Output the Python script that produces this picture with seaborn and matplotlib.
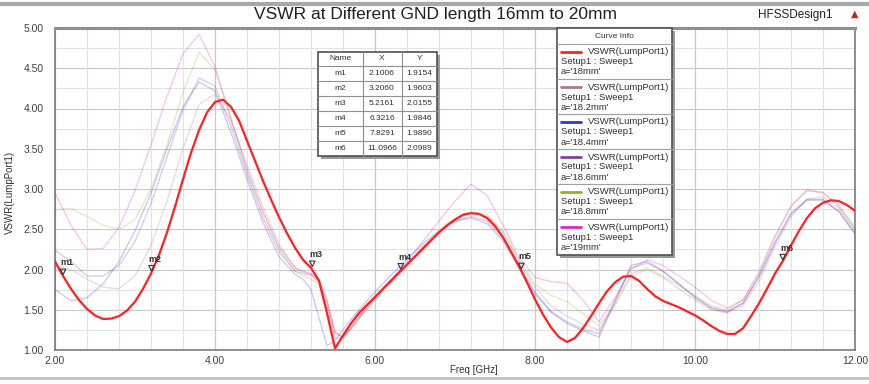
import numpy as np
import pandas as pd
import matplotlib
matplotlib.use("Agg")
import matplotlib.pyplot as plt
import matplotlib.transforms as mtransforms
from matplotlib.patches import Rectangle
from matplotlib.lines import Line2D
from matplotlib.ticker import MultipleLocator, FormatStrFormatter
import seaborn as sns

# ---------------- data ----------------
title = "VSWR at Different GND length 16mm to 20mm"
design = "HFSSDesign1"
y_label = "VSWR(LumpPort1)"
x_label = "Freq [GHz]"

freq_red = np.round(np.arange(2.0, 12.001, 0.1), 1)
vswr_18 = [2.10, 1.92, 1.76, 1.62, 1.51, 1.43, 1.385, 1.39, 1.42, 1.49,
           1.60, 1.76, 1.95, 2.18, 2.46, 2.78, 3.12, 3.45, 3.73, 3.95,
           4.08, 4.11, 4.02, 3.85, 3.60, 3.35, 3.10, 2.87, 2.65, 2.45,
           2.27, 2.12, 2.02, 1.86, 1.46, 1.02, 1.18, 1.33, 1.46, 1.56,
           1.66, 1.76, 1.86, 1.96, 2.06, 2.16, 2.26, 2.36, 2.46, 2.55,
           2.62, 2.68, 2.70, 2.69, 2.64, 2.54, 2.40, 2.22, 2.04, 1.84,
           1.63, 1.44, 1.28, 1.16, 1.10, 1.15, 1.27, 1.42, 1.58, 1.73,
           1.84, 1.91, 1.92, 1.86, 1.76, 1.67, 1.61, 1.57, 1.53, 1.48,
           1.43, 1.37, 1.30, 1.24, 1.20, 1.20, 1.27, 1.42, 1.58, 1.76,
           1.95, 2.11, 2.30, 2.48, 2.64, 2.76, 2.83, 2.86, 2.85, 2.80,
           2.73]

freq_other = [2.0, 2.2, 2.4, 2.6, 2.8, 3.0, 3.2, 3.4, 3.6, 3.8, 4.0, 4.2, 4.4, 4.6, 4.8,
              5.0, 5.1, 5.2, 5.3, 5.4, 5.5, 5.6, 5.7, 5.8,
              6.0, 6.2, 6.4, 6.6, 6.8, 7.0, 7.2, 7.4, 7.6, 7.8, 8.0, 8.2, 8.4, 8.6, 8.8,
              9.0, 9.2, 9.4, 9.6, 9.8, 10.0, 10.2, 10.4, 10.6, 10.8, 11.0, 11.2, 11.4,
              11.6, 11.8, 12.0]

vswr_18_2 = [2.05, 2.00, 1.88, 1.78, 1.76, 1.92, 2.30, 2.85, 3.50, 4.05, 4.18, 3.85, 3.30, 2.78, 2.32,
             2.02, 1.97, 1.94, 1.86, 1.62, 1.22, 1.15, 1.26, 1.38,
             1.62, 1.84, 2.05, 2.27, 2.47, 2.62, 2.70, 2.66, 2.46, 2.10, 1.78, 1.55, 1.42, 1.32, 1.25,
             1.55, 1.92, 2.00, 1.90, 1.76, 1.62, 1.50, 1.46, 1.55, 1.85, 2.28, 2.65, 2.88,
             2.90, 2.76, 2.48]
vswr_18_4 = [1.75, 1.61, 1.65, 1.82, 2.10, 2.48, 2.95, 3.50, 4.02, 4.33, 4.22, 3.70, 3.12, 2.58, 2.16,
             1.94, 1.88, 1.75, 1.40, 1.05, 1.12, 1.25, 1.38, 1.50,
             1.72, 1.93, 2.13, 2.32, 2.48, 2.60, 2.64, 2.57, 2.36, 2.02, 1.70, 1.47, 1.33, 1.24, 1.16,
             1.60, 2.05, 2.10, 1.98, 1.82, 1.65, 1.52, 1.47, 1.58, 1.92, 2.34, 2.70, 2.87,
             2.87, 2.72, 2.44]
vswr_18_6 = [2.24, 2.10, 1.92, 1.92, 2.05, 2.35, 2.82, 3.40, 3.98, 4.38, 4.28, 3.78, 3.18, 2.64, 2.22,
             1.98, 1.95, 1.93, 1.85, 1.55, 1.15, 1.14, 1.27, 1.40,
             1.65, 1.87, 2.08, 2.28, 2.46, 2.60, 2.66, 2.60, 2.40, 2.05, 1.72, 1.48, 1.35, 1.26, 1.20,
             1.62, 2.02, 2.08, 1.98, 1.82, 1.66, 1.53, 1.48, 1.58, 1.90, 2.32, 2.68, 2.86,
             2.86, 2.72, 2.45]
vswr_18_8 = [2.74, 2.76, 2.66, 2.55, 2.50, 2.62, 3.00, 3.55, 4.20, 4.70, 4.48, 3.86, 3.22, 2.70, 2.26,
             1.98, 1.92, 1.88, 1.82, 1.58, 1.20, 1.15, 1.27, 1.40,
             1.64, 1.86, 2.07, 2.28, 2.48, 2.63, 2.72, 2.68, 2.48, 2.12, 1.82, 1.68, 1.60, 1.45, 1.30,
             1.58, 1.95, 2.02, 1.92, 1.80, 1.68, 1.55, 1.50, 1.62, 1.98, 2.42, 2.80, 2.99,
             2.95, 2.78, 2.50]
vswr_19 = [2.95, 2.55, 2.25, 2.26, 2.52, 2.98, 3.55, 4.15, 4.68, 4.92, 4.52, 3.88, 3.25, 2.72, 2.28,
           2.02, 1.98, 1.95, 1.88, 1.62, 1.22, 1.16, 1.28, 1.42,
           1.66, 1.88, 2.10, 2.35, 2.60, 2.85, 3.06, 2.92, 2.55, 2.15, 1.90, 1.85, 1.83, 1.62, 1.35,
           1.65, 2.00, 2.12, 2.05, 1.92, 1.78, 1.62, 1.52, 1.62, 1.95, 2.40, 2.78, 2.98,
           2.96, 2.80, 2.52]

curve_names = ["18mm", "18.2mm", "18.4mm", "18.6mm", "18.8mm", "19mm"]
curve_colors = ["#FF2020", "#B07890", "#3434D8", "#84409C", "#A8A828", "#E028C0"]

marker_names = ["m1", "m2", "m3", "m4", "m5", "m6"]
marker_x = [2.1006, 3.2060, 5.2161, 6.3216, 7.8291, 11.0966]
marker_y = [1.9154, 1.9603, 2.0155, 1.9846, 1.9890, 2.0989]

# ---------------- build frame for the faint curves ----------------
others = {"18.2mm": vswr_18_2, "18.4mm": vswr_18_4, "18.6mm": vswr_18_6,
          "18.8mm": vswr_18_8, "19mm": vswr_19}
rows = []
for name, vals in others.items():
    for f, v in zip(freq_other, vals):
        rows.append({"Freq": f, "VSWR": v, "a": name})
df_other = pd.DataFrame(rows)
df_red = pd.DataFrame({"Freq": freq_red, "VSWR": vswr_18})

sns.set_theme(style="white")
plt.rcParams["font.family"] = ["Liberation Sans", "DejaVu Sans"]

W, H = 869, 384
def fx(px):
    return px / W
def fy(py):
    return 1 - py / H

fig = plt.figure(figsize=(W / 100, H / 100), dpi=100)
fig.patch.set_facecolor("white")
ax = fig.add_axes([fx(55), fy(350), (855 - 55) / W, (350 - 28) / H])
ax.set_facecolor("white")

# grid
ax.set_xlim(2, 12)
ax.set_ylim(1, 5)
ax.xaxis.set_major_locator(MultipleLocator(2))
ax.xaxis.set_minor_locator(MultipleLocator(0.4))
ax.yaxis.set_major_locator(MultipleLocator(0.5))
ax.yaxis.set_minor_locator(MultipleLocator(0.1))
ax.xaxis.set_major_formatter(FormatStrFormatter("%.2f"))
ax.yaxis.set_major_formatter(FormatStrFormatter("%.2f"))
ax.grid(axis="x", which="minor", color="#E2E2E2", lw=0.8, zorder=0)
ax.grid(axis="x", which="major", color="#C8C8C8", lw=0.9, zorder=0)
for yv in np.arange(1.25, 5.0, 0.25):
    ax.axhline(yv, color="#C8C8C8" if abs(yv * 2 - round(yv * 2)) < 1e-9 else "#E2E2E2",
               lw=0.8, zorder=0)

pal = dict(zip(curve_names, curve_colors))
sns.lineplot(data=df_other, x="Freq", y="VSWR", hue="a", palette=pal, lw=1.0,
             alpha=0.26, legend=False, estimator=None, sort=False, ax=ax, zorder=2)
sns.lineplot(data=df_red, x="Freq", y="VSWR", color=curve_colors[0], lw=1.6,
             legend=False, estimator=None, sort=False, ax=ax, zorder=3)

# markers
off = mtransforms.offset_copy(ax.transData, fig=fig, y=3.2, units="points")
ax.scatter(marker_x, marker_y, marker="v", s=16, facecolors="none",
           edgecolors="#333333", linewidths=0.8, transform=off, zorder=5)
for n, mx, my in zip(marker_names, marker_x, marker_y):
    ax.annotate(n, (mx, my), xytext=(-2, 6.5), textcoords="offset points",
                fontsize=6.5, fontweight="bold", color="#333333", ha="left", va="bottom",
                zorder=6)

ax.set_xlabel("")
ax.set_ylabel("")
for s in ax.spines.values():
    s.set_color("#707070")
    s.set_linewidth(1.1)
ax.spines["top"].set_linewidth(2.2)
ax.spines["top"].set_color("#909090")
ax.tick_params(axis="y", which="major", direction="out", length=6, width=0.9,
               color="#505050", labelsize=7.5, labelcolor="#404040", pad=2)
ax.tick_params(axis="y", which="minor", direction="out", length=3, width=0.8, color="#505050")
ax.tick_params(axis="x", which="major", direction="in", length=4, width=0.9,
               color="#505050", labelsize=7.5, labelcolor="#404040", pad=4)
ax.tick_params(axis="x", which="minor", direction="in", length=3, width=0.8, color="#505050")

# ---------------- text around ----------------
fig.text(fx(435), fy(15), title, ha="center", va="center", fontsize=12.5, color="#202020")
fig.text(fx(795), fy(15), design, ha="center", va="center", fontsize=8.5, color="#202020")
fig.text(fx(855), fy(14), "▲", ha="center", va="center", fontsize=7, color="#C02828",
         family=["DejaVu Sans"])
fig.text(fx(10), fy(192), y_label, rotation=90, ha="center", va="center", fontsize=7,
         color="#303030")
fig.text(fx(474), fy(370), x_label, ha="center", va="center", fontsize=7, color="#303030")

fig.add_artist(Line2D([0, 1], [fy(4), fy(4)], transform=fig.transFigure, color="#A8A8A8", lw=3))
fig.add_artist(Line2D([0, 1], [fy(378), fy(378)], transform=fig.transFigure, color="#C0C0C0", lw=2))

# ---------------- marker table ----------------
def rect(x0, y0, x1, y1, **kw):
    r = Rectangle((fx(x0), fy(y1)), (x1 - x0) / W, (y1 - y0) / H,
                  transform=fig.transFigure, **kw)
    fig.add_artist(r)

rect(321, 55, 440, 159, facecolor="#9A9A9A", edgecolor="none", zorder=9)
rect(318, 52, 437, 156, facecolor="white", edgecolor="#505050", lw=1.2, zorder=10)
row_b = [66, 81, 96, 111, 126, 141]
for yb in row_b:
    fig.add_artist(Line2D([fx(318), fx(437)], [fy(yb), fy(yb)], transform=fig.transFigure,
                          color="#909090", lw=0.8, zorder=11))
for xb in [363, 402]:
    fig.add_artist(Line2D([fx(xb), fx(xb)], [fy(52), fy(156)], transform=fig.transFigure,
                          color="#909090", lw=0.8, zorder=11))
col_c = [340, 382, 419.5]
for c, h in zip(col_c, ["Name", "X", "Y"]):
    fig.text(fx(c), fy(59), h, ha="center", va="center", fontsize=6, color="#303030", zorder=12)
for i, (n, mx, my) in enumerate(zip(marker_names, marker_x, marker_y)):
    yc = 73.5 + 15 * i
    fig.text(fx(col_c[0]), fy(yc), n, ha="center", va="center", fontsize=6, color="#303030", zorder=12)
    fig.text(fx(col_c[1]), fy(yc), f"{mx:.4f}", ha="center", va="center", fontsize=6,
             color="#303030", zorder=12)
    fig.text(fx(col_c[2]), fy(yc), f"{my:.4f}", ha="center", va="center", fontsize=6,
             color="#303030", zorder=12)

# ---------------- curve info legend ----------------
rect(560, 31, 675, 258, facecolor="#9A9A9A", edgecolor="none", zorder=9)
rect(557, 28, 672, 255, facecolor="white", edgecolor="#505050", lw=1.2, zorder=10)
fig.text(fx(614.5), fy(36.5), "Curve Info", ha="center", va="center", fontsize=6,
         color="#303030", zorder=12)
fig.add_artist(Line2D([fx(557), fx(672)], [fy(44), fy(44)], transform=fig.transFigure,
                      color="#A0A0A0", lw=0.8, zorder=11))
for i, (n, col) in enumerate(zip(curve_names, curve_colors)):
    base = 35 * i
    fig.add_artist(Line2D([fx(561), fx(581)], [fy(52 + base), fy(52 + base)],
                          transform=fig.transFigure, color=col, lw=2, zorder=12))
    fig.text(fx(669), fy(52 + base), "VSWR(LumpPort1)", ha="right", va="center",
             fontsize=6.8, color="#303030", zorder=12)
    fig.text(fx(561), fy(62 + base), "Setup1 : Sweep1", ha="left", va="center",
             fontsize=6.8, color="#303030", zorder=12)
    fig.text(fx(561), fy(72 + base), f"a='{n}'", ha="left", va="center",
             fontsize=6.8, color="#303030", zorder=12)
    if i < 5:
        fig.add_artist(Line2D([fx(557), fx(672)], [fy(79 + base), fy(79 + base)],
                              transform=fig.transFigure, color="#A0A0A0", lw=0.8, zorder=11))

fig.savefig("out.png", dpi=100, facecolor="white")
